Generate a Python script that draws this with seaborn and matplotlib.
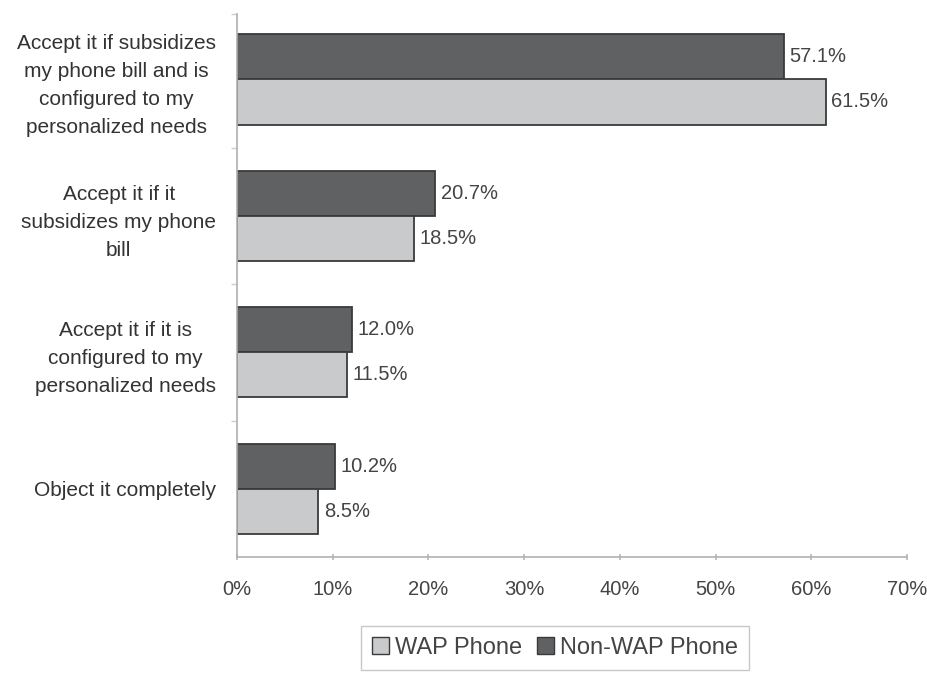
import matplotlib
matplotlib.use("Agg")
import matplotlib.pyplot as plt
import seaborn as sns
import pandas as pd
from matplotlib.patches import Patch
from matplotlib.ticker import FixedLocator

categories = [
    "Accept it if subsidizes\nmy phone bill and is\nconfigured to my\npersonalized needs",
    "Accept it if it\nsubsidizes my phone\nbill",
    "Accept it if it is\nconfigured to my\npersonalized needs",
    "Object it completely",
]
non_wap = [57.1, 20.7, 12.0, 10.2]
wap = [61.5, 18.5, 11.5, 8.5]
series = ["Non-WAP Phone", "WAP Phone"]
legend_order = ["WAP Phone", "Non-WAP Phone"]
xticks = [0, 10, 20, 30, 40, 50, 60, 70]

colors = {"Non-WAP Phone": "#5f6163", "WAP Phone": "#c9cacc"}

rows = []
for c, v in zip(categories, non_wap):
    rows.append({"cat": c, "series": "Non-WAP Phone", "value": v})
for c, v in zip(categories, wap):
    rows.append({"cat": c, "series": "WAP Phone", "value": v})
df = pd.DataFrame(rows)

sns.set_theme(style="white")
plt.rcParams["font.family"] = ["Liberation Sans", "DejaVu Sans"]

fig = plt.figure(figsize=(9.27, 6.75), dpi=100)
ax = fig.add_axes([237 / 927, 1 - 557 / 675, (907 - 237) / 927, (557 - 14) / 675])

sns.barplot(data=df, y="cat", x="value", hue="series", hue_order=series,
            order=categories, palette=colors, orient="h", width=0.66,
            edgecolor="#3a3a3a", linewidth=1.3, saturation=1, legend=False, ax=ax)

for cont in ax.containers:
    labels = [f"{b.get_width():.1f}%" for b in cont]
    ax.bar_label(cont, labels=labels, padding=4, fontsize=14.5, color="#444444")

ax.set_xlim(0, 70)
ax.set_ylim(3.5, -0.48)
ax.set_xticks(xticks)
ax.set_xticklabels([f"{t}%" for t in xticks], fontsize=14.5, color="#444444")
ax.set_yticks(range(len(categories)))
ax.set_yticklabels(categories, fontsize=15, color="#333333", ha="right",
                   multialignment="center", linespacing=1.6)
ax.tick_params(axis="y", length=0, pad=15)
ax.yaxis.set_minor_locator(FixedLocator([-0.48, 0.5, 1.5, 2.5]))
ax.tick_params(axis="y", which="minor", length=4, color="#cccccc", width=1, left=True)
ax.tick_params(axis="x", length=5, direction="inout", color="#bbbbbb", pad=14, bottom=True)
ax.set_xlabel("")
ax.set_ylabel("")
for s in ["top", "right"]:
    ax.spines[s].set_visible(False)
for s in ["left", "bottom"]:
    ax.spines[s].set_color("#b0b0b0")
    ax.spines[s].set_linewidth(1.2)

handles = [Patch(facecolor=colors[s], edgecolor="#3a3a3a", linewidth=1) for s in legend_order]
leg = fig.legend(handles, legend_order, loc="center", bbox_to_anchor=(555 / 927, 1 - 648 / 675),
                 ncol=2, frameon=True, fancybox=False, edgecolor="#bbbbbb", fontsize=17,
                 handlelength=0.75, handleheight=0.75, handletextpad=0.25, columnspacing=0.6,
                 borderpad=0.45)
for t in leg.get_texts():
    t.set_color("#444444")

fig.savefig("out.png", dpi=100)
